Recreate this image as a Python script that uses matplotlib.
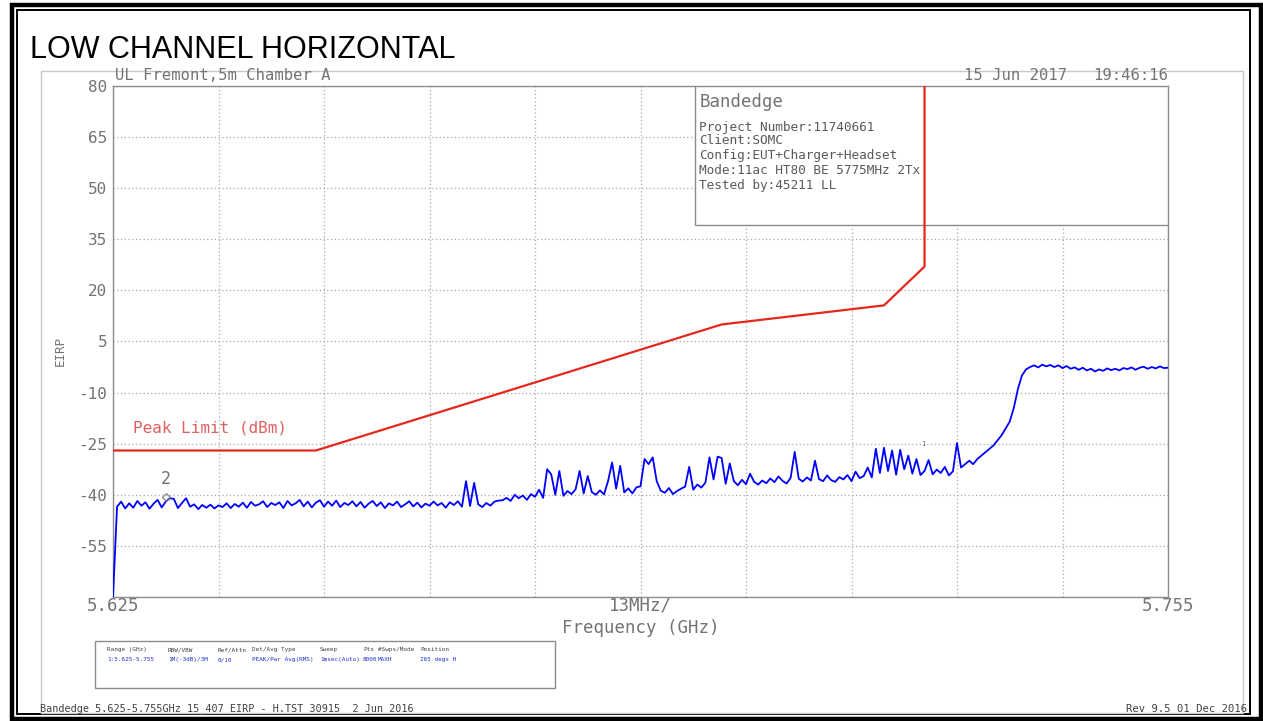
import numpy as np
import matplotlib
matplotlib.use("Agg")
import matplotlib.pyplot as plt
from matplotlib.patches import Rectangle

# ---------------- data ----------------
f_start = 5.625      # GHz
f_stop = 5.755       # GHz
step_ghz = 0.0005    # sweep resolution used for the read-off trace

trace_dbm = [
    -70.0, -43.5, -42.0, -44.0, -42.5, -43.8, -41.8, -43.2, -42.2, -44.1,
    -42.6, -41.5, -43.7, -42.0, -41.0, -41.2, -43.9, -42.4, -41.0, -43.5,
    -42.8, -44.2, -43.0, -43.8, -42.9, -44.0, -43.1, -43.6, -42.5, -43.9,
    -42.7, -43.5, -42.3, -43.8, -42.1, -43.2, -42.8, -41.9, -43.6, -42.4,
    -43.0, -42.2, -43.9, -41.8, -43.1, -42.5, -41.5, -43.4, -42.0, -43.7,
    -42.3, -41.6, -43.5, -42.0, -43.2, -41.7, -43.6, -42.4, -43.0, -41.9,
    -43.4, -42.1, -43.8, -42.6, -41.8, -43.3, -42.2, -43.9, -42.5, -43.1,
    -42.0, -43.6, -42.8, -41.9, -43.4, -42.3, -43.7, -42.6, -43.2, -42.0,
    -43.1, -42.4, -43.8, -42.2, -43.0, -41.9, -43.5, -36.0, -43.3, -36.5,
    -42.8, -43.6, -42.4, -43.2, -42.0, -41.7, -41.6, -40.9, -41.8, -40.0,
    -41.0, -40.2, -41.5, -39.8, -40.6, -38.5, -40.9, -32.5, -34.0, -40.0,
    -33.0, -40.3, -38.9, -39.8, -38.4, -33.0, -39.6, -34.5, -39.2, -40.0,
    -38.7, -39.9, -36.0, -30.5, -38.2, -31.5, -39.3, -38.1, -39.6, -37.8,
    -37.5, -29.5, -31.0, -29.0, -36.0, -38.8, -39.4, -38.0, -39.8, -38.9,
    -38.2, -37.6, -31.8, -38.5, -37.0, -37.9, -36.4, -29.0, -35.5, -28.8,
    -29.2, -36.8, -30.8, -36.0, -37.2, -35.6, -36.9, -33.8, -36.2, -37.0,
    -35.8, -36.6, -35.2, -36.3, -34.6, -35.9, -36.7, -35.0, -27.4, -35.3,
    -36.1, -34.9, -35.8, -30.0, -35.4, -36.0, -34.3, -35.7, -36.2, -34.8,
    -35.5, -34.2, -36.0, -33.2, -35.1, -34.5, -32.0, -34.9, -26.5, -33.6,
    -26.2, -33.0, -27.0, -34.1, -26.8, -32.5, -28.5, -33.8, -29.5, -34.2,
    -33.0, -29.8, -34.0, -32.6, -33.6, -31.8, -34.3, -33.1, -24.8, -32.0,
    -31.0, -30.0, -31.0, -29.5, -28.5, -27.5, -26.5, -25.5, -24.0, -22.5,
    -20.5, -18.5, -14.5, -9.0, -5.0, -3.2, -2.5, -2.0, -2.6, -1.8,
    -2.3, -1.9, -2.5, -2.0, -2.8, -2.2, -3.0, -2.6, -3.3, -2.7,
    -3.5, -3.0, -3.8, -3.2, -3.6, -2.9, -3.4, -3.0, -3.5, -2.8,
    -3.1, -2.6, -3.3, -2.7, -2.4, -3.0, -2.5, -2.9, -2.3, -2.8,
    -2.7,
]

# Peak limit line (FCC 15.407 band-edge mask)
limit_freq = [5.625, 5.650, 5.700, 5.720, 5.725, 5.725]
limit_dbm = [-27.0, -27.0, 10.0, 15.6, 27.0, 80.0]

y_ticks = [80, 65, 50, 35, 20, 5, -10, -25, -40, -55, -70]
y_tick_labels = ["80", "65", "50", "35", "20", "5", "-10", "-25", "-40", "-55", ""]
x_ticks = [5.625 + 0.013 * i for i in range(11)]
x_tick_labels = ["5.625", "", "", "", "", "13MHz/", "", "", "", "", "5.755"]

info_title = "Bandedge"
info_lines = ["Project Number:11740661", "Client:SOMC", "Config:EUT+Charger+Headset",
              "Mode:11ac HT80 BE 5775MHz 2Tx", "Tested by:45211 LL"]
param_headers = ["Range (GHz)", "RBW/VBW", "Ref/Attn", "Det/Avg Type", "Sweep", "Pts",
                 "#Swps/Mode", "Position"]
param_values = ["1:5.625-5.755", "1M(-3dB)/3M", "0/10", "PEAK/Pwr Avg(RMS)", "1msec(Auto)",
                "8000", "MAXH", "265 degs H"]

marker2_freq, marker2_dbm = 5.6315, -40.5
marker1_freq, marker1_dbm = 5.7248, -26.0

# ---------------- figure ----------------
W, H = 1263, 721
fig = plt.figure(figsize=(W / 100, H / 100), dpi=100)
fig.patch.set_facecolor("white")

def fx(x):
    return x / W

def fy(y):
    return 1 - y / H

MONO = "DejaVu Sans Mono"
GRAY_TXT = "#737373"
GRAY_LINE = "#8c8c8c"

# outer black double frame
fig.patches.append(Rectangle((fx(12), fy(718.5)), fx(1260.5) - fx(12), fy(5) - fy(718.5),
                             transform=fig.transFigure, fill=False, ec="black", lw=3.2))
fig.patches.append(Rectangle((fx(16.5), fy(713.5)), fx(1250) - fx(16.5), fy(10) - fy(713.5),
                             transform=fig.transFigure, fill=False, ec="black", lw=1.4))
# light gray panel frame of the analyser screenshot
fig.patches.append(Rectangle((fx(41), fy(713)), fx(1243) - fx(41), fy(71) - fy(713),
                             transform=fig.transFigure, fill=False, ec="#c8c8c8", lw=1.0))

fig.text(fx(30), fy(58), "LOW CHANNEL HORIZONTAL", fontsize=22,
         family=["Liberation Sans", "DejaVu Sans"], color="black", va="baseline", ha="left")

ax = fig.add_axes([fx(113), fy(597), fx(1168) - fx(113), fy(86) - fy(597)])
freqs = f_start + step_ghz * np.arange(len(trace_dbm))
ax.plot(freqs, trace_dbm, color="#0000ff", lw=1.3, zorder=4)
ax.plot(limit_freq, limit_dbm, color="#e4281e", lw=1.6, zorder=6, clip_on=True)

ax.set_xlim(f_start, f_stop)
ax.set_ylim(-70, 80)
ax.set_xticks(x_ticks)
ax.set_xticklabels(x_tick_labels)
ax.set_yticks(y_ticks)
ax.set_yticklabels(y_tick_labels)
ax.tick_params(length=0, labelcolor=GRAY_TXT)
ax.tick_params(axis="x", pad=0, labelsize=12.5)
ax.tick_params(axis="y", pad=4, labelsize=11.5)
for lab in ax.get_xticklabels() + ax.get_yticklabels():
    lab.set_family(MONO)
ax.grid(True, color="#a8a8a8", ls=(0, (1, 2)), lw=0.9)
for sp in ax.spines.values():
    sp.set_color(GRAY_LINE)
    sp.set_linewidth(1.0)

# info box in the upper right
ax.add_patch(Rectangle((0.5517, 0.728), 1 - 0.5517, 0.272, transform=ax.transAxes,
                       facecolor="white", edgecolor=GRAY_LINE, lw=1.0, zorder=5))
fig.text(fx(700), fy(102), info_title, fontsize=12.5, family=MONO, color="#737373",
         va="center", ha="left")
for line, ypx in zip(info_lines, [127, 141, 156, 170, 185]):
    fig.text(fx(699), fy(ypx), line, fontsize=9.2, family=MONO, color="#5a5a5a",
             va="center", ha="left")

# labels around the axes
fig.text(fx(115), fy(76), "UL Fremont,5m Chamber A", fontsize=11.2, family=MONO,
         color=GRAY_TXT, va="center", ha="left")
fig.text(fx(964), fy(75), "15 Jun 2017", fontsize=11.2, family=MONO,
         color=GRAY_TXT, va="center", ha="left")
fig.text(fx(1168), fy(75), "19:46:16", fontsize=11.2, family=MONO,
         color=GRAY_TXT, va="center", ha="right")
fig.text(fx(60), fy(351), "EIRP", fontsize=9, family=MONO, color=GRAY_TXT,
         rotation=90, va="center", ha="center")
fig.text(fx(641), fy(628), "Frequency (GHz)", fontsize=12.5, family=MONO,
         color=GRAY_TXT, va="center", ha="center")
ax.text(5.6275, -22.5, "Peak Limit (dBm)", fontsize=11.5, family=MONO, color="#e06060",
        va="bottom", ha="left", zorder=7)

# markers
ax.plot([marker2_freq], [marker2_dbm], marker="D", ms=4, mfc="none", mec="#808080", mew=0.8, zorder=7)
ax.text(marker2_freq, marker2_dbm + 2.5, "2", fontsize=12, family=MONO, color="#707070",
        ha="center", va="bottom", zorder=7)
ax.text(marker1_freq, marker1_dbm, "1", fontsize=5, family=MONO, color="#707070",
        ha="center", va="bottom", zorder=7)

# parameter table at the bottom
fig.patches.append(Rectangle((fx(95), fy(688)), fx(555) - fx(95), fy(641) - fy(688),
                             transform=fig.transFigure, fill=False, ec=GRAY_LINE, lw=1.0))
col_x = [107, 168, 218, 252, 320, 363, 378, 420]
for cx, hdr, val in zip(col_x, param_headers, param_values):
    fig.text(fx(cx), fy(651), hdr, fontsize=4.3, family=MONO, color="#404040",
             va="baseline", ha="left")
    fig.text(fx(cx), fy(661), val, fontsize=4.3, family=MONO, color="#2030d0",
             va="baseline", ha="left")

fig.text(fx(40), fy(709), "Bandedge 5.625-5.755GHz 15_407 EIRP - H.TST 30915  2 Jun 2016",
         fontsize=7.3, family=MONO, color="#404040", va="center", ha="left")
fig.text(fx(1247), fy(709), "Rev 9.5 01 Dec 2016", fontsize=7.6, family=MONO,
         color="#404040", va="center", ha="right")

fig.savefig("out.png", dpi=100, facecolor="white")
